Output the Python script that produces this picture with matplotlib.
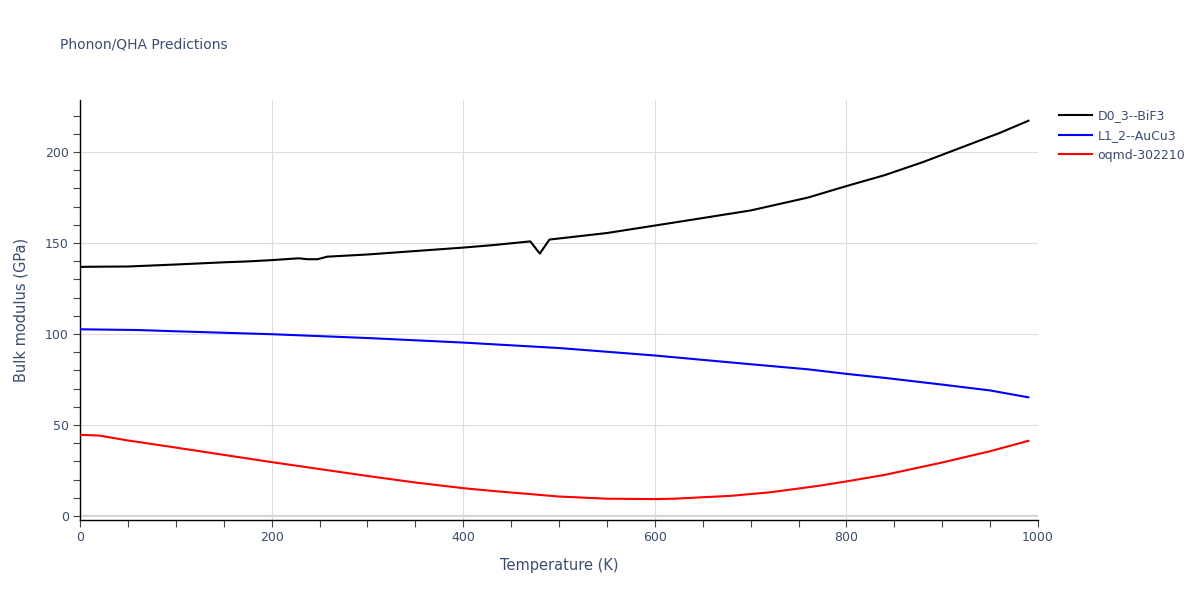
import matplotlib
matplotlib.use("Agg")
import matplotlib.pyplot as plt
from matplotlib.ticker import MultipleLocator
from matplotlib.lines import Line2D

plt.rcParams['font.family'] = ['DejaVu Sans']

# Data
t_bif3 = [0, 20, 50, 100, 150, 175, 200, 228, 238, 248, 258, 300, 350, 400, 430, 470, 480, 490,
          550, 600, 640, 700, 760, 800, 840, 880, 920, 960, 990]
b_bif3 = [136.9, 137.0, 137.1, 138.2, 139.4, 139.9, 140.6, 141.6, 141.1, 141.1, 142.5, 143.7,
          145.6, 147.5, 148.8, 150.9, 144.2, 151.9, 155.5, 159.6, 162.9, 167.9, 175.0, 181.3,
          187.3, 194.5, 202.5, 210.5, 217.2]

t_aucu3 = [0, 60, 100, 200, 300, 400, 500, 600, 700, 760, 800, 840, 900, 950, 990]
b_aucu3 = [102.6, 102.2, 101.5, 99.9, 97.8, 95.3, 92.3, 88.2, 83.4, 80.6, 78.1, 75.9, 72.2, 69.0, 65.2]

t_oqmd = [0, 20, 50, 100, 150, 200, 250, 300, 350, 400, 430, 500, 550, 600, 620, 680, 720, 770,
          800, 840, 900, 950, 990]
b_oqmd = [44.6, 44.2, 41.5, 37.6, 33.6, 29.6, 25.8, 22.0, 18.4, 15.3, 13.8, 10.7, 9.5, 9.3, 9.5,
          11.1, 13.0, 16.5, 19.0, 22.6, 29.4, 35.6, 41.3]

labels = ["D0_3--BiF3", "L1_2--AuCu3", "oqmd-302210"]
colors = ["black", "blue", "red"]

text_color = "#3b4d6e"
grid_color = "#dddddd"

fig = plt.figure(figsize=(12, 6), dpi=100)
ax = fig.add_axes([80/1200, 80/600, 958/1200, 420/600])

for t, b, lab, c in zip([t_bif3, t_aucu3, t_oqmd], [b_bif3, b_aucu3, b_oqmd], labels, colors):
    ax.plot(t, b, color=c, lw=1.5, label=lab, zorder=3)

ax.set_xlim(0, 1000)
ax.set_ylim(-2.2, 228.6)

ax.xaxis.set_major_locator(MultipleLocator(200))
ax.xaxis.set_minor_locator(MultipleLocator(50))
ax.yaxis.set_major_locator(MultipleLocator(50))
ax.yaxis.set_minor_locator(MultipleLocator(10))

ax.grid(True, which='major', color=grid_color, lw=0.8, zorder=0)
ax.axhline(0, color="#cfcfcf", lw=1.5, zorder=1)

for s in ['top', 'right']:
    ax.spines[s].set_visible(False)
for s in ['left', 'bottom']:
    ax.spines[s].set_color('black')
    ax.spines[s].set_linewidth(1)

ax.tick_params(which='both', direction='out', length=5, width=0.8, color='#444444',
               labelcolor=text_color, labelsize=9)
ax.tick_params(which='major', pad=3)

ax.set_xlabel("Temperature (K)", color=text_color, fontsize=10.5, labelpad=10)
ax.set_ylabel("Bulk modulus (GPa)", color=text_color, fontsize=10.5, labelpad=12)

fig.text(60/1200, 1 - 45/600, "Phonon/QHA Predictions", color=text_color, fontsize=10,
         va='center', ha='left')

# Legend
handles = [Line2D([0], [0], color=c, lw=1.5) for c in colors]
leg = fig.legend(handles, labels, loc='upper left', bbox_to_anchor=(1054/1200, 1 - 104/600),
                 frameon=False, fontsize=9, handlelength=2.6, handletextpad=0.5,
                 labelspacing=0.55, borderaxespad=0)
for txt in leg.get_texts():
    txt.set_color(text_color)

fig.savefig("out.png", dpi=100)
